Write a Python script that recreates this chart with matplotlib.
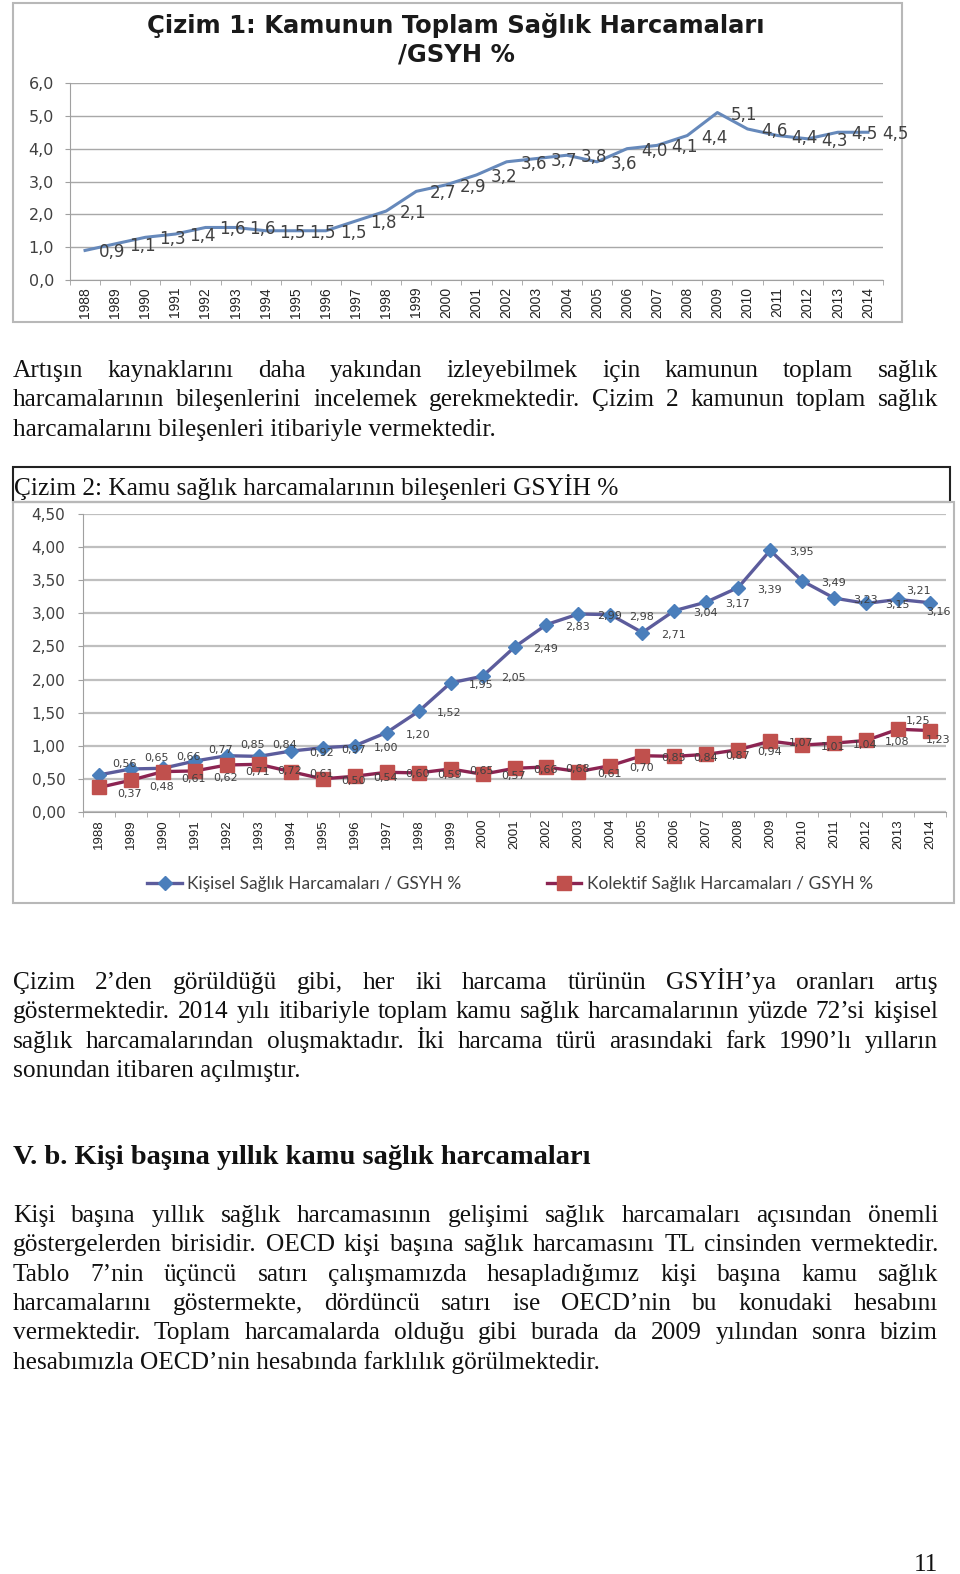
import numpy as np
import matplotlib.pyplot as plt
from matplotlib.patches import Rectangle

## Data
years = [str(y) for y in range(1988, 2015)]

toplam = [0.9, 1.1, 1.3, 1.4, 1.6, 1.6, 1.5, 1.5, 1.5, 1.8, 2.1, 2.7, 2.9, 3.2,
          3.6, 3.7, 3.8, 3.6, 4.0, 4.1, 4.4, 5.1, 4.6, 4.4, 4.3, 4.5, 4.5]

kisisel = [0.56, 0.65, 0.66, 0.77, 0.85, 0.84, 0.92, 0.97, 1.00, 1.20, 1.52, 1.95, 2.05, 2.49,
           2.83, 2.99, 2.98, 2.71, 3.04, 3.17, 3.39, 3.95, 3.49, 3.23, 3.15, 3.21, 3.16]

kolektif = [0.37, 0.48, 0.61, 0.62, 0.71, 0.72, 0.61, 0.50, 0.54, 0.60, 0.59, 0.65, 0.57, 0.66,
            0.68, 0.61, 0.70, 0.85, 0.84, 0.87, 0.94, 1.07, 1.01, 1.04, 1.08, 1.25, 1.23]

yticks1 = [0, 1, 2, 3, 4, 5, 6]
yticks2 = [0, 0.5, 1.0, 1.5, 2.0, 2.5, 3.0, 3.5, 4.0, 4.5]

title1 = ["Çizim 1: Kamunun Toplam Sağlık Harcamaları", "/GSYH %"]
caption2 = "Çizim 2: Kamu sağlık harcamalarının bileşenleri GSYİH %"
legend2 = ["Kişisel Sağlık Harcamaları / GSYH %", "Kolektif Sağlık Harcamaları / GSYH %"]

para1 = ["Artışın kaynaklarını daha yakından izleyebilmek için kamunun toplam sağlık",
         "harcamalarının bileşenlerini incelemek gerekmektedir. Çizim 2 kamunun toplam sağlık",
         "harcamalarını bileşenleri itibariyle vermektedir."]
para2 = ["Çizim 2’den görüldüğü gibi, her iki harcama türünün GSYİH’ya oranları artış",
         "göstermektedir. 2014 yılı itibariyle toplam kamu sağlık harcamalarının yüzde 72’si kişisel",
         "sağlık harcamalarından oluşmaktadır. İki harcama türü arasındaki fark 1990’lı yılların",
         "sonundan itibaren açılmıştır."]
heading = "V. b. Kişi başına yıllık kamu sağlık harcamaları"
para3 = ["Kişi başına yıllık sağlık harcamasının gelişimi sağlık harcamaları açısından önemli",
         "göstergelerden birisidir. OECD kişi başına sağlık harcamasını TL cinsinden vermektedir.",
         "Tablo 7’nin üçüncü satırı çalışmamızda hesapladığımız kişi başına kamu sağlık",
         "harcamalarını göstermekte, dördüncü satırı ise OECD’nin bu konudaki hesabını",
         "vermektedir. Toplam harcamalarda olduğu gibi burada da 2009 yılından sonra bizim",
         "hesabımızla OECD’nin hesabında farklılık görülmektedir."]

W, H = 960, 1574
fig = plt.figure(figsize=(W / 100, H / 100), dpi=100)
fig.patch.set_facecolor('white')

# page layer in pixel coordinates
page = fig.add_axes([0, 0, 1, 1])
page.set_xlim(0, W)
page.set_ylim(H, 0)
page.axis('off')

def px_axes(l, t, r, b):
    return fig.add_axes([l / W, 1 - b / H, (r - l) / W, (b - t) / H])

def comma(v, d):
    return f"{v:.{d}f}".replace('.', ',')

## Chart 1
page.add_patch(Rectangle((13, 3), 889, 319, fill=False, ec='#b8b8b8', lw=1.5))
for k, line in enumerate(title1):
    page.text(456, 26 + 29 * k, line, ha='center', va='center', fontsize=17.5, fontweight='bold',
              family='DejaVu Sans', color='#1a1a1a')

x = np.arange(len(years))
ax1 = px_axes(70, 83, 883, 280)
ax1.plot(x, toplam, color='#6689bb', lw=2.2)
for i, v in enumerate(toplam):
    ax1.annotate(comma(v, 1), (i, v), xytext=(27, -2), textcoords='offset pixels',
                 ha='center', va='center', fontsize=12, color='#404040')
ax1.set_xlim(-0.5, len(years) - 0.5)
ax1.set_ylim(0, 6)
ax1.set_yticks(yticks1)
ax1.set_yticklabels([comma(v, 1) for v in yticks1], fontsize=11.5, color='#404040')
ax1.set_xticks(x)
ax1.set_xticklabels(years, rotation=90, fontsize=10, color='#222222',
                    family=['Liberation Sans', 'DejaVu Sans'])
ax1.set_xticks(np.arange(len(years) + 1) - 0.5, minor=True)
ax1.tick_params(axis='x', which='major', length=0, pad=5)
ax1.tick_params(axis='x', which='minor', length=3.5, color='#a0a0a0')
ax1.tick_params(axis='y', length=3.5, color='#a0a0a0', pad=8)
ax1.grid(axis='y', color='#a8a8a8', lw=1)
ax1.set_axisbelow(True)
for s in ['top', 'right']:
    ax1.spines[s].set_visible(False)
for s in ['left', 'bottom']:
    ax1.spines[s].set_color('#a0a0a0')

## Text block
serif = 'Liberation Serif'
renderer = fig.canvas.get_renderer()
FS = 18.3
LEFT, RIGHT = 13, 938

def put_line(line, y, justify, size=FS, weight='normal'):
    if not justify:
        page.text(LEFT, y, line, fontsize=size, family=serif, fontweight=weight,
                  va='baseline', ha='left', color='#111111')
        return
    words = line.split()
    texts = [page.text(0, y, w, fontsize=size, family=serif, fontweight=weight,
                       va='baseline', ha='left', color='#111111') for w in words]
    widths = [t.get_window_extent(renderer).width for t in texts]
    gap = (RIGHT - LEFT - sum(widths)) / (len(words) - 1)
    if gap < 3.5:
        # squeeze the line a little so that it still fits
        k = (RIGHT - LEFT - 3.5 * (len(words) - 1)) / sum(widths)
        for t in texts:
            t.set_fontsize(size * k)
        widths = [t.get_window_extent(renderer).width for t in texts]
        gap = (RIGHT - LEFT - sum(widths)) / (len(words) - 1)
    xx = LEFT
    for t, w in zip(texts, widths):
        t.set_x(xx)
        xx += w + gap

def put_para(lines, y0, step=29.3):
    for k, line in enumerate(lines):
        put_line(line, y0 + k * step, k < len(lines) - 1)

put_para(para1, 377)
put_para(para2, 989)
put_line(heading, 1164, False, size=20.5, weight='bold')
put_para(para3, 1222)
page.text(938, 1571, "11", fontsize=FS, family=serif, ha='right', va='baseline', color='#111111')

## Chart 2
page.add_patch(Rectangle((13, 467), 937, 35, fill=False, ec='#222222', lw=1.5))
page.text(14, 495, caption2, fontsize=FS, family=serif, va='baseline', ha='left', color='#111111')
page.add_patch(Rectangle((13, 502), 941, 401, fill=False, ec='#b8b8b8', lw=1.5))

ax2 = px_axes(83, 514, 946, 812)
l1, = ax2.plot(x, kisisel, color='#5c5c9c', lw=2.4, marker='D', ms=7,
               mfc='#4a7ebb', mec='#4a7ebb', label=legend2[0])
l2, = ax2.plot(x, kolektif, color='#8c2452', lw=2.4, marker='s', ms=9.5,
               mfc='#c0504d', mec='#c0504d', label=legend2[1])
last = len(years) - 1
for s_idx, series in enumerate((kisisel, kolektif)):
    for i, v in enumerate(series):
        close = kisisel[i] - kolektif[i] < 0.2
        # labels sit to the right; the last two are pulled in to stay inside the chart
        if i == last:
            off = (8, -9)
        elif i == last - 1:
            off = (20, 8)
        elif close:
            off = (26, 11) if s_idx == 0 else (31, -7)
        else:
            off = (31, -2)
        ax2.annotate(comma(v, 2), (i, v), xytext=off, textcoords='offset pixels',
                     ha='center', va='center', fontsize=8, color='#404040')
ax2.set_xlim(-0.5, len(years) - 0.5)
ax2.set_ylim(0, 4.5)
ax2.set_yticks(yticks2)
ax2.set_yticklabels([comma(v, 2) for v in yticks2], fontsize=11, color='#404040')
ax2.set_xticks(x)
ax2.set_xticklabels(years, rotation=90, fontsize=9.5, color='#202020',
                    family=['Liberation Sans', 'DejaVu Sans'])
ax2.set_xticks(np.arange(len(years) + 1) - 0.5, minor=True)
ax2.tick_params(axis='x', which='major', length=0, pad=5)
ax2.tick_params(axis='x', which='minor', length=3.6, color='#a0a0a0')
ax2.tick_params(axis='y', length=3.6, color='#a0a0a0', pad=9)
ax2.grid(axis='y', color='#bfbfbf', lw=1.6)
ax2.set_axisbelow(True)
for s in ['top', 'right']:
    ax2.spines[s].set_visible(False)
for s in ['left', 'bottom']:
    ax2.spines[s].set_color('#a0a0a0')

fig.legend(handles=[l1, l2], loc='center', bbox_to_anchor=(510 / W, 1 - 884 / H),
           ncol=2, frameon=False, handlelength=2.0, handletextpad=0.3, columnspacing=4.9,
           prop={'family': 'Lato', 'size': 12.5}, labelcolor='#404040')

fig.savefig('out.png', dpi=100)
